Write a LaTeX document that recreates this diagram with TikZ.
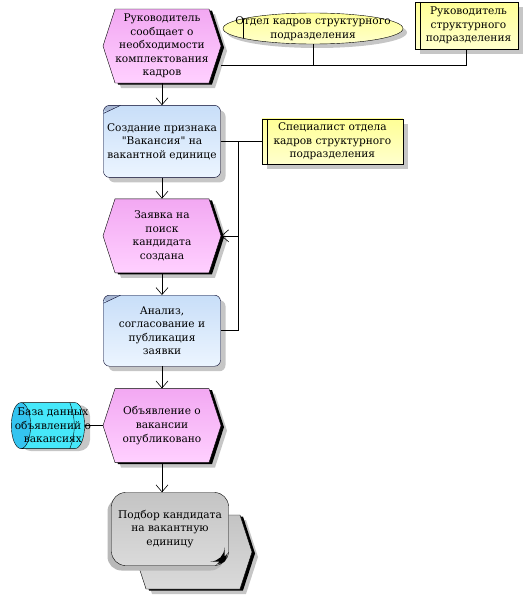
\documentclass[tikz,border=0pt]{standalone}
\usepackage{fontspec}
\setmainfont{DejaVu Serif}
\usetikzlibrary{arrows.meta, positioning, shapes.geometric, shapes.symbols,
                shadows, calc}

\definecolor{evtA}{RGB}{242,168,242}
\definecolor{evtB}{RGB}{255,208,255}
\definecolor{fnA}{RGB}{200,222,248}
\definecolor{fnB}{RGB}{236,245,255}
\definecolor{fnmark}{RGB}{168,184,212}
\definecolor{orgA}{RGB}{255,255,150}
\definecolor{orgB}{RGB}{255,255,205}
\definecolor{piA}{RGB}{196,196,196}
\definecolor{piB}{RGB}{218,218,218}
\definecolor{dbbody}{RGB}{70,232,250}
\definecolor{dbend}{RGB}{52,196,240}

\begin{document}
\begin{tikzpicture}[
    x=1pt, y=1pt,
    >={Straight Barb[length=7pt,width=12pt]},
    every node/.style={font=\fontsize{10.6}{13.6}\selectfont, align=center},
    line/.style={draw, line width=0.6pt},
    event/.style={signal, signal to=west and east, signal from=nowhere,
                  signal pointer angle=144, draw, inner sep=0pt,
                  minimum width=118pt, minimum height=74pt,
                  top color=evtA, bottom color=evtB,
                  general shadow={fill=gray!45, shadow xshift=6pt, shadow yshift=-5pt},
                  general shadow={fill=black, shadow xshift=3pt, shadow yshift=-1.5pt}},
    func/.style={draw=black!85!blue, rounded corners=6pt, inner sep=0pt,
                 minimum width=117pt, minimum height=72pt,
                 top color=fnA, bottom color=fnB,
                 general shadow={fill=gray!45, shadow xshift=5pt, shadow yshift=-5pt},
                 path picture={
                   \fill[fnmark] (path picture bounding box.north west)
                     -- ++(17pt,0) -- ++(-17pt,-8pt) -- cycle;
                   \draw ([xshift=17pt]path picture bounding box.north west)
                     -- ([yshift=-8pt]path picture bounding box.north west);}},
    orgunit/.style={ellipse, draw, text width=170pt, inner xsep=-22pt,
                    inner ysep=-4pt, minimum width=180pt, minimum height=31pt,
                    top color=orgA, bottom color=orgB,
                    general shadow={fill=gray!45, shadow xshift=4pt, shadow yshift=-4pt},
                    path picture={
                      \draw ([xshift=20pt]path picture bounding box.north west)
                        -- ([xshift=20pt]path picture bounding box.south west);}},
    role/.style={draw, inner sep=0pt, top color=orgA, bottom color=orgB,
                 general shadow={fill=gray!45, shadow xshift=5pt, shadow yshift=-5pt},
                 path picture={
                   \draw ([xshift=5pt]path picture bounding box.north west)
                     -- ([xshift=5pt]path picture bounding box.south west);}},
    database/.style={cylinder, shape border rotate=180, aspect=0.55, draw,
                     inner xsep=-16pt, inner ysep=0pt,
                     minimum width=46pt, minimum height=73pt,
                     cylinder uses custom fill, cylinder body fill=dbbody,
                     cylinder end fill=dbend},
    ifhex/.style={event, top color=piA, bottom color=piB},
    procif/.style={draw, rounded corners=14pt, inner sep=0pt,
                   minimum width=117pt, minimum height=73pt,
                   top color=piA, bottom color=piB,
                   general shadow={fill=gray!55, shadow xshift=-4pt, shadow yshift=-5pt},
                   path picture={
                     \fill ([shift={(-9pt,4pt)}]path picture bounding box.south east)
                       -- ++(5pt,0) -- ++(0,5pt) -- cycle;}}
  ]
  \useasboundingbox (0,0) rectangle (527,-597);

  % process chain
  \node[event] (e1) at (162,-46) {Руководитель\\сообщает о\\необходимости\\комплектования\\кадров};
  \node[func, below=22pt of e1] (f1) {Создание признака\\\textquotedbl Вакансия\textquotedbl\ на\\вакантной единице};
  \node[event, below=21pt of f1] (e2) {Заявка на\\поиск\\кандидата\\создана};
  \node[func, below=22pt of e2, minimum height=71pt] (f2) {Анализ,\\согласование и\\публикация\\заявки};
  \node[event, below=22pt of f2] (e3) {Объявление о\\вакансии\\опубликовано};
  \fill[gray!45, rounded corners=11pt] (20,-405) rectangle (90,-451);
  \node[database, left=18pt of e3] (db) {База данных\\объявлений о\\вакансиях};
  \draw ($(db.east)+(-15,23)$) .. controls ($(db.east)+(-9,8)$) and ($(db.east)+(-9,-8)$) .. ($(db.east)+(-15,-23)$);
  \node[ifhex, below=52pt of e3, xshift=31pt] (pih) {};
  \node[procif] (pi) at ($(pih)+(-23,23)$) {Подбор кандидата\\на вакантную\\единицу};

  % organisational units
  \node[orgunit] (ou1) at (313,-28.5) {Отдел кадров структурного\\подразделения};
  \node[role, minimum width=103pt, minimum height=47pt] (ou2) at (466.5,-25.5)
    {\hspace*{4pt}Руководитель\\\hspace*{4pt}структурного\\\hspace*{4pt}подразделения};
  \node[role, minimum width=141pt, minimum height=45pt, right=41pt of f1] (ou3)
    {Специалист отдела\\кадров структурного\\подразделения};

  % connections
  \coordinate (j1) at ([yshift=-19pt]e1.east);
  \draw[line] (j1) -| (ou2.south);
  \draw[line] (ou1.south) -- (ou1.south |- j1);
  \draw[line] (f1.east) -- (ou3.west);
  \coordinate (bus) at ($(f1.east)!0.42!(ou3.west)$);
  \draw[line] (bus) |- (f2.east);
  \draw[line, ->] (bus |- e2.east) -- (e2.east);
  \draw[line, ->] (e1.south) -- (f1.north);
  \draw[line, ->] (f1.south) -- (e2.north);
  \draw[line, ->] (e2.south) -- (f2.north);
  \draw[line, ->] (f2.south) -- (e3.north);
  \draw[line] (db) -- (e3.west);
  \draw[line, ->] (e3.south) -- (e3.south |- pi.north);
\end{tikzpicture}
\end{document}
